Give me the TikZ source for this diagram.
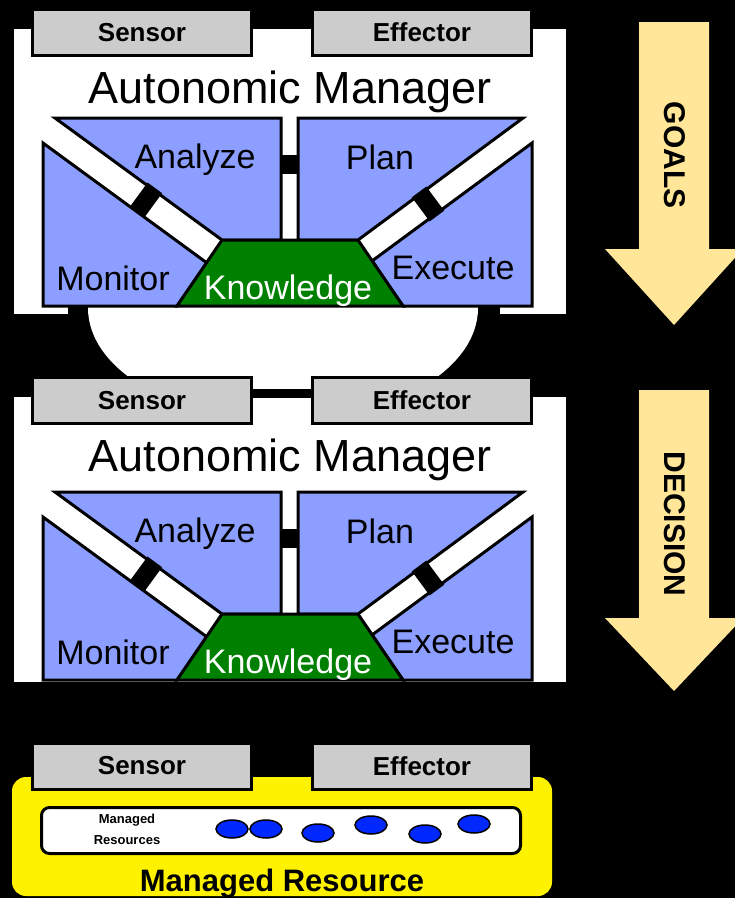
\documentclass[tikz,border=0pt]{standalone}
\usepackage{fontspec}
\setmainfont{Liberation Sans}
\usepackage{tikz}
\usetikzlibrary{positioning,shapes.geometric}
\definecolor{partblue}{RGB}{140,158,255}
\definecolor{knowgreen}{RGB}{0,128,0}
\definecolor{touchgray}{RGB}{204,204,204}
\definecolor{flowyellow}{RGB}{255,230,153}
\definecolor{resblue}{RGB}{0,40,255}

\begin{document}
\begin{tikzpicture}[
    x=1pt, y=-1pt,
    font=\normalfont,
    touch/.style={
		rectangle,
		draw=black,
		line width=3pt,
		fill=touchgray,
		text centered,
		minimum width=219pt,
		minimum height=46pt,
		inner sep=0pt,
		font=\fontsize{26}{28}\selectfont\bfseries
	},
	part/.style={
		draw=black,
		line width=3pt,
		fill=partblue
	},
	know/.style={
		draw=black,
		line width=3pt,
		fill=knowgreen
	},
	label/.style={
		inner sep=0pt,
		font=\fontsize{34}{36}\selectfont
	},
	title/.style={
		inner sep=0pt,
		font=\fontsize{45}{48}\selectfont
	},
	bridge/.style={
		rectangle,
		fill=black,
		inner sep=0pt,
		minimum width=18pt,
		minimum height=30pt
	},
	flow/.style={
		fill=flowyellow
	},
	flowtext/.style={
		inner sep=0pt,
		rotate=-90,
		font=\fontsize{30}{32}\selectfont\bfseries
	},
	pool/.style={
		rectangle,
		rounded corners=8pt,
		draw=black,
		line width=3pt,
		fill=white,
		minimum width=479pt,
		minimum height=46pt
	},
	res/.style={
		ellipse,
		draw=black,
		line width=1.5pt,
		fill=resblue,
		minimum width=32pt,
		minimum height=18pt,
		inner sep=0pt
	}
  ]
  \useasboundingbox (0,0) rectangle (735,898);
  \fill[black] (0,0) rectangle (735,898);

  % white link between the two managers
  \fill[white] (88,308) arc[start angle=180, end angle=0, x radius=195, y radius=112.6] -- cycle;

  % the two autonomic managers
  \foreach \p/\b/\n in {0/0/1,368/374/2}{
    \begin{scope}[shift={(0,\p)}]
      \fill[white] (14,29) rectangle (566,314);
      \node[touch] (sensor\n) at (142,32.5) {Sensor};
      \node[touch] (effector\n) at (422,32.5) {Effector};
      \node[title] (manager\n) at (290,92) {Autonomic Manager};
    \end{scope}
    \begin{scope}[shift={(0,\b)}]
      \draw[part] (55,118) -- (281,118) -- (281,240) -- (222,240) -- cycle;
      \draw[part] (298,118) -- (523,118) -- (358,240) -- (298,240) -- cycle;
      \draw[part] (43,143) -- (207,263) -- (177,306) -- (43,306) -- cycle;
      \draw[part] (532,143) -- (532,306) -- (403,306) -- (372,261) -- cycle;
      \draw[know] (222,240) -- (358,240) -- (403,306) -- (177,306) -- cycle;
      \node[bridge, rotate=-36.2] (bridgema\n) at (146,200) {};
      \node[bridge, rotate=36.5] (bridgepe\n) at (428,204) {};
      \node[bridge, minimum width=17pt, minimum height=19pt] (bridgeap\n) at (289.5,164.5) {};
      \node[label] (analyze\n) at (195,160) {Analyze};
      \node[label] (plan\n) at (380,157) {Plan};
      \node[label] (monitor\n) at (113,278) {Monitor};
      \node[label] (execute\n) at (453,268) {Execute};
      \node[label, text=white] (knowledge\n) at (288,291) {Knowledge};
    \end{scope}
  }
  \fill[black] (68,307) rectangle (88,315);
  \fill[black] (478,307) rectangle (500,315);
  \draw[line width=9pt] ([yshift=7pt]sensor2.east) -- ([yshift=7pt]effector2.west);

  % managed resource
  \fill[yellow, rounded corners=14pt] (12,777) rectangle (552,896);
  \node[touch] (sensor3) at (142,766) {Sensor};
  \node[touch] (effector3) at (422,766) {Effector};
  \node[pool] (pool) at (281,830.5) {};
  \node[align=center, inner sep=0pt, font=\fontsize{13}{21}\selectfont\bfseries] (poolname) at (127,829.5) {Managed\\Resources};
  \node[res] (res1) at (232,829) {};
  \node[res] (res2) at (266,829) {};
  \node[res] (res3) at (318,833) {};
  \node[res] (res4) at (371,825) {};
  \node[res] (res5) at (425,834) {};
  \node[res] (res6) at (474,824) {};
  \node[inner sep=0pt, font=\fontsize{31}{33}\selectfont\bfseries] (resource) at (282,884) {Managed Resource};

  % goals and decisions
  \fill[flow] (639,22) -- (709,22) -- (709,249) -- (743,249) -- (674,325) -- (605,249) -- (639,249) -- cycle;
  \node[flowtext] (goals) at (675,155) {GOALS};
  \fill[flow] (639,390) -- (709,390) -- (709,618) -- (743,618) -- (674,691) -- (605,618) -- (639,618) -- cycle;
  \node[flowtext] (decision) at (675,524) {DECISION};
\end{tikzpicture}
\end{document}
